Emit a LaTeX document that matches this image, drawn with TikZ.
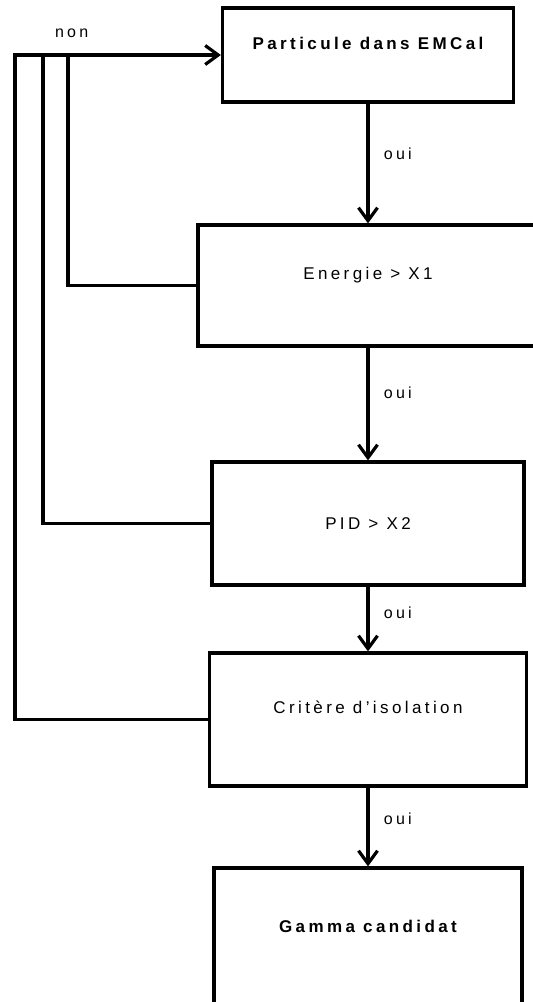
\documentclass[tikz,border=0pt]{standalone}
\usepackage{fontspec}
\newfontfamily\spaced{Liberation Sans}[LetterSpace=20]
\usetikzlibrary{positioning, arrows.meta}

\begin{document}
\begin{tikzpicture}[x=1pt, y=-1pt,
  testbox/.style={draw, line width=3.2pt, inner sep=0pt, align=center,
              font=\spaced\fontsize{17}{19}\selectfont},
  raised/.style={text height=12pt, text depth=24pt},
  flow/.style={line width=3.2pt, -{Straight Barb[length=13pt, width=19pt, line width=3.2pt]}},
  link/.style={line width=3.2pt},
  lbl/.style={font=\spaced\fontsize{16}{18}\selectfont},
]
\useasboundingbox (0,0) rectangle (533,1002);

\node[testbox, raised, minimum width=291pt, minimum height=94pt] (b1) at (368,55) {\bfseries Particule dans EMCal};
\node[testbox, raised, minimum width=340pt, minimum height=121pt] (b2) at (368,285.5) {Energie > X1};
\node[testbox, minimum width=312pt, minimum height=123pt] (b3) at (368,523.5) {PID > X2};
\node[testbox, raised, minimum width=317pt, minimum height=133pt] (b4) at (368,719.5) {Critère d’isolation};
\node[testbox, raised, minimum width=308pt, minimum height=140pt] (b5) at (368,938) {\bfseries Gamma candidat};

% oui
\draw[flow] (b1) -- node[lbl, pos=0.42, right=11pt] {oui} (b2);
\draw[flow] (b2) -- node[lbl, pos=0.4, right=11pt] {oui} (b3);
\draw[flow] (b3) -- node[lbl, pos=0.4, right=11pt] {oui} (b4);
\draw[flow] (b4) -- node[lbl, pos=0.4, right=11pt] {oui} (b5);

% non
\coordinate (j2) at (68,55);
\coordinate (j3) at (43,55);
\coordinate (j4) at (15,55);
\draw[link] (b2.west) -| (j2);
\draw[link] (b3.west) -| (j3);
\draw[flow] (b4.west) -| (j4) -- node[lbl, pos=0.275, above=12pt] {non} (b1.west);
\end{tikzpicture}
\end{document}
